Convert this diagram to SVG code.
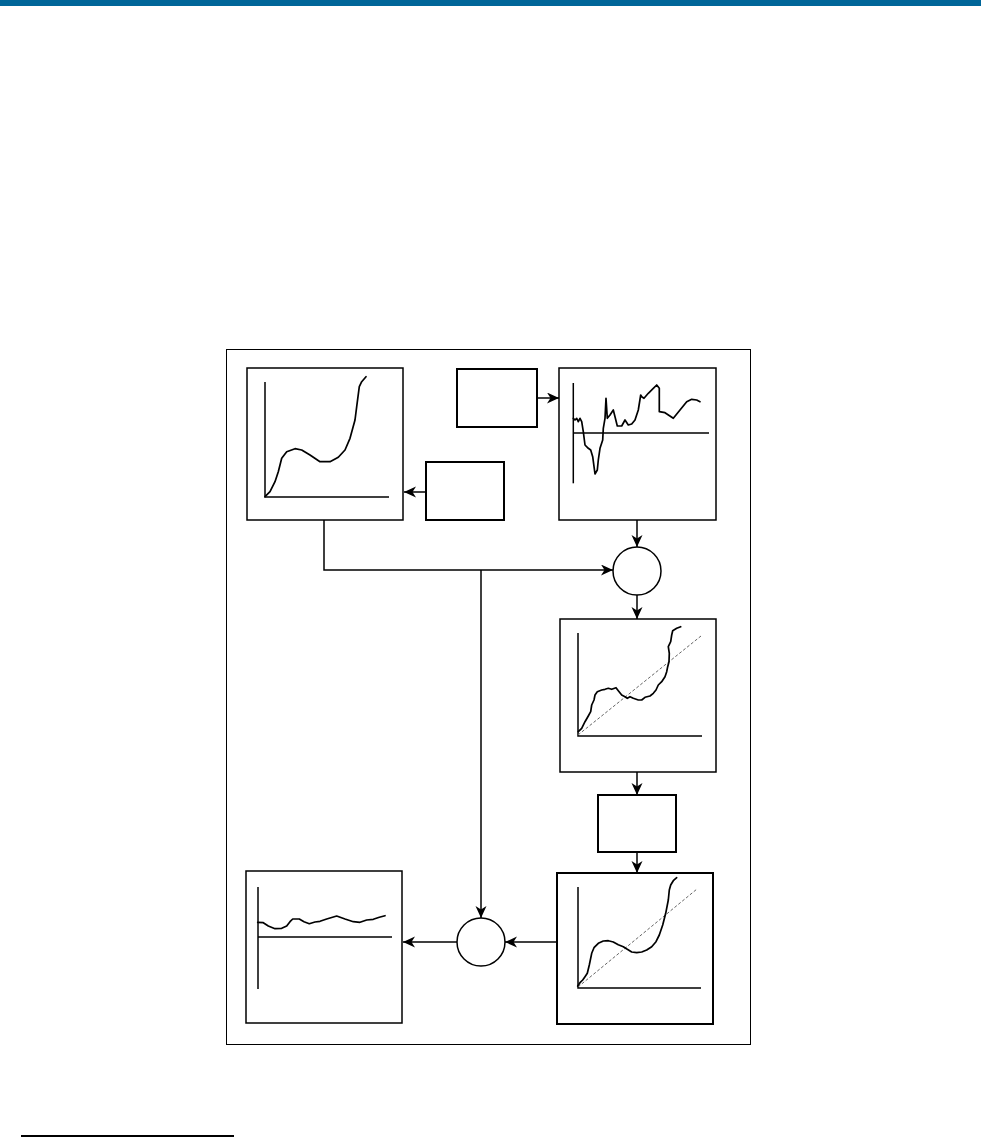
<svg xmlns="http://www.w3.org/2000/svg" width="981" height="1137" viewBox="0 0 981 1137">
<style>
.box{fill:#fff;stroke:#000;stroke-width:1.5}
.sbox{fill:#fff;stroke:#000;stroke-width:2}
.axis{fill:none;stroke:#000;stroke-width:1.5}
.curve{fill:none;stroke:#000;stroke-width:1.7;stroke-linejoin:round;stroke-linecap:round}
.dash{fill:none;stroke:#666;stroke-width:1;stroke-dasharray:3,2}
.conn{fill:none;stroke:#000;stroke-width:1.5}
.circ{fill:#fff;stroke:#000;stroke-width:1.5}
</style>
<defs>
<marker id="arr" markerUnits="userSpaceOnUse" markerWidth="14" markerHeight="12" refX="12" refY="5.5" orient="auto">
<path d="M0,0 L12,5.5 L0,11 L3.5,5.5 Z" fill="#000"/>
</marker>
</defs>
<rect x="0" y="0" width="981" height="6" fill="#006699"/>
<rect x="21" y="1135" width="213" height="2" fill="#000"/>
<rect id="frame" x="226.5" y="349.5" width="524" height="695" fill="none" stroke="#000" stroke-width="1"/>

<g id="connectors">
<line class="conn" x1="426" y1="492" x2="404" y2="492" marker-end="url(#arr)"/>
<line class="conn" x1="537" y1="398" x2="559" y2="398" marker-end="url(#arr)"/>
<line class="conn" x1="637" y1="520" x2="637" y2="547" marker-end="url(#arr)"/>
<path class="conn" d="M324,520 V570 H613" marker-end="url(#arr)"/>
<line class="conn" x1="481" y1="570" x2="481" y2="918" marker-end="url(#arr)"/>
<line class="conn" x1="637" y1="595" x2="637" y2="619" marker-end="url(#arr)"/>
<line class="conn" x1="637" y1="772" x2="637" y2="795" marker-end="url(#arr)"/>
<line class="conn" x1="637" y1="852" x2="637" y2="873" marker-end="url(#arr)"/>
<line class="conn" x1="557" y1="942" x2="505" y2="942" marker-end="url(#arr)"/>
<line class="conn" x1="457" y1="942" x2="403" y2="942" marker-end="url(#arr)"/>
</g>

<g id="chartA">
<rect class="box" x="247" y="368" width="156" height="152"/>
<polyline class="axis" points="265,382 265,497 389,497"/>
<polyline class="curve" points="265,496.7 270,491.7 275,481.7 278.3,471.7 281.7,458.3 286.7,451.7 295,448.7 301.7,450 310,455 320,461.7 330,461.7 338.3,457.3 345,450 350,438.3 355,420 356.7,406.7 359.3,386.7 361.7,381.7 366,376.7"/>
</g>

<g id="boxB">
<rect class="sbox" x="426" y="462" width="78" height="58"/>
</g>

<g id="boxC">
<rect class="sbox" x="457" y="369" width="80" height="58"/>
</g>

<g id="chartD">
<rect class="box" x="559" y="368" width="157" height="152"/>
<line class="axis" x1="573.3" y1="383" x2="573.3" y2="483.3"/>
<line class="axis" x1="573" y1="433" x2="709" y2="433"/>
<polyline class="curve" points="573.3,418.3 575,420 576.7,418.3 578.3,421.7 580,418.3 581.7,421.7 583.3,431.7 585,445 588.3,448.3 590.7,450 592.7,456.7 595,474 597.3,470 598.3,460 600,448.3 602.7,440 603.3,428.3 605,418.3 606,398.3 607.3,418.3 610,415 613.3,410 615,416.7 617.3,426 621.7,426 625,420 628.3,425 631.7,424 635,420 638.3,410 640.7,395 641.7,396.7 644,398.3 648.3,393.3 653.3,388.3 656.7,385 659.3,388.3 659.3,411.7 665,412.7 673.3,418.3 680,410 686.7,401.7 691.7,399.3 696.7,400 700,401.7"/>
</g>

<g id="sum1">
<circle class="circ" cx="637" cy="571" r="24"/>
</g>

<g id="chartE">
<rect class="box" x="560" y="619" width="156" height="153"/>
<polyline class="axis" points="578,633 578,736 702,736"/>
<line class="dash" x1="578" y1="735" x2="701" y2="636"/>
<polyline class="curve" points="578.3,731.7 581.7,728.3 585,721.7 588.3,716 590.7,711.7 591.7,705 594,700 595,695 597.3,691.7 601.7,690 605,689.3 608.3,688.3 611.7,689.3 616,687.7 618.3,690.7 621.7,695 625,696.7 627.3,698.3 630,696.7 633.3,698.3 638.3,700 641.7,700 645,697.3 650,696 653.3,693.3 656,690 658.3,685 661.7,681.7 665,676.7 666.7,671.7 667.7,666.7 669,661.7 669.3,653.3 668.3,646.7 670.7,641.7 671.7,635 672.7,630.7 676.7,628.3 680.7,626.7"/>
</g>

<g id="boxH">
<rect class="sbox" x="598" y="795" width="78" height="57"/>
</g>

<g id="chartF">
<rect class="sbox" x="557" y="873" width="156" height="151"/>
<polyline class="axis" points="578,887 578,988 701,988"/>
<line class="dash" x1="578" y1="987" x2="697" y2="889"/>
<polyline class="curve" points="577.7,986 580,982.7 582.7,980 585,976.7 587.3,973.3 589.3,965 591.7,953.3 594,947.7 598.3,943.3 603.3,941 608.3,940.7 613.3,942 618.3,944.7 623.3,946.7 627.3,949.3 631.7,952 636.7,952.7 641.7,952 646.7,950 651.7,946.7 656,941.7 659.3,935 662.7,925 665.7,913.3 668.3,900 669.3,890 670.7,885 673.3,880.7 676.7,877.7"/>
</g>

<g id="sum2">
<circle class="circ" cx="481" cy="942" r="24"/>
</g>

<g id="chartG">
<rect class="box" x="246" y="871" width="156" height="152"/>
<line class="axis" x1="258" y1="887" x2="258" y2="989"/>
<line class="axis" x1="258" y1="937" x2="392" y2="937"/>
<polyline class="curve" points="257.7,922.3 263.3,922.7 268.3,926 275,928.7 281.7,928.3 286.7,926 290,921.7 292.7,919 299.3,919 304,921.7 309.3,923.7 315,922 320,921.3 326.7,919 336.7,916 345,919 353.3,921.7 360,922.3 366.7,920 373.3,919.3 379.3,917.3 385,915.7"/>
</g>
</svg>
